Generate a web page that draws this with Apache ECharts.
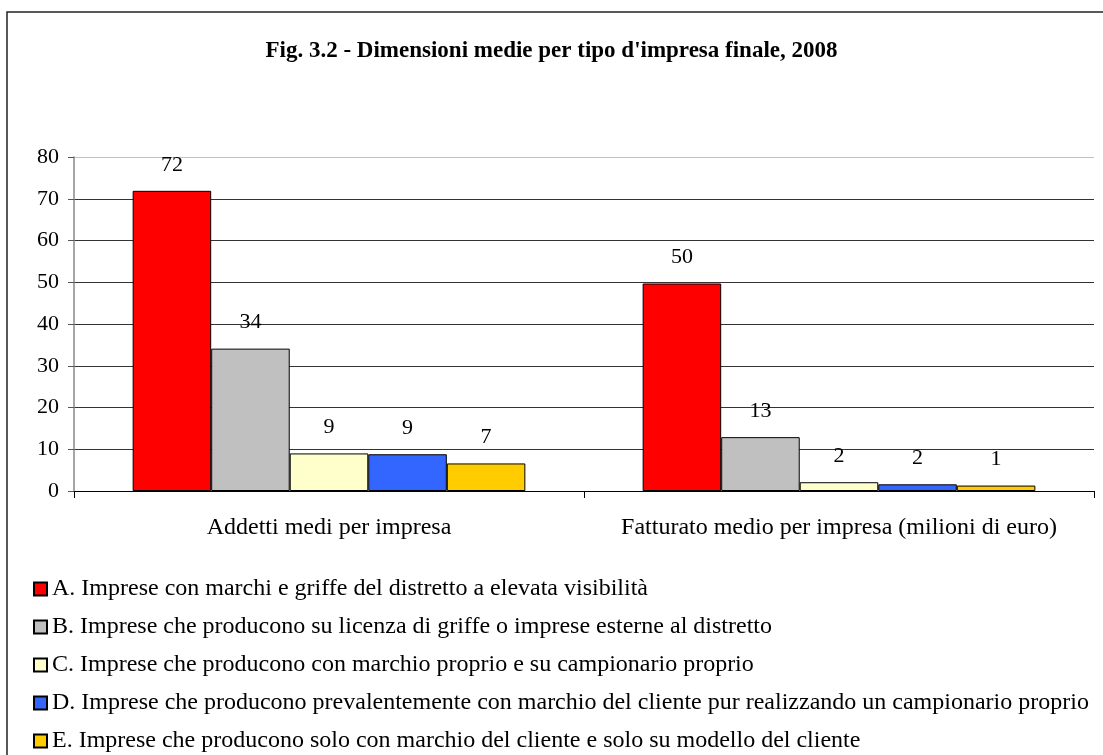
<!DOCTYPE html>
<html>
<head>
<meta charset="utf-8">
<script src="https://cdn.jsdelivr.net/npm/echarts@6/dist/echarts.min.js"></script>
<style>
	html, body { margin: 0; padding: 0; background: #fff; }
	#main { width: 1103px; height: 755px; }
</style>
</head>
<body>
<div id="main"></div>
<script>
var categories = ['Addetti medi per impresa', 'Fatturato medio per impresa (milioni di euro)'];
var seriesNames = [
	'A. Imprese con marchi e griffe del distretto a elevata visibilità',
	'B. Imprese che producono su licenza di griffe o imprese esterne al distretto',
	'C. Imprese che producono con marchio proprio e su campionario proprio',
	'D. Imprese che producono prevalentemente con marchio del cliente pur realizzando un campionario proprio',
	'E. Imprese che producono solo con marchio del cliente e solo su modello del cliente'
];
var valuesA = [71.9, 49.7];
var valuesB = [34.1, 12.9];
var valuesC = [9.0, 2.1];
var valuesD = [8.8, 1.6];
var valuesE = [6.6, 1.3];
var yTicks = [0, 10, 20, 30, 40, 50, 60, 70, 80];
var colors = ['#ff0000', '#c0c0c0', '#ffffcc', '#3366ff', '#ffcc00'];

var font = '"Liberation Serif", "Times New Roman", serif';
var allValues = [valuesA, valuesB, valuesC, valuesD, valuesE];

var myChart = echarts.init(document.getElementById('main'));

var series = allValues.map(function(vals, i) {
	return {
		name: seriesNames[i],
		type: 'bar',
		data: vals,
		barGap: '0%',
		barCategoryGap: '23%',
		itemStyle: {
			color: colors[i],
			borderColor: '#000',
			borderWidth: 1
		},
		label: {
			show: true,
			position: 'top',
			distance: 15,
			fontFamily: font,
			fontSize: 22,
			color: '#000',
			formatter: function(p) {
				return Math.round(p.value);
			}
		}
	};
});

var option = {
	animation: false,
	backgroundColor: '#fff',
	title: {
		text: 'Fig. 3.2 - Dimensioni medie per tipo d\'impresa finale, 2008',
		left: 'center',
		top: 35,
		textStyle: {
			fontFamily: font,
			fontSize: 23,
			fontWeight: 'bold',
			color: '#000'
		}
	},
	legend: {
		orient: 'vertical',
		left: 33,
		top: 577,
		height: 220,
		padding: 0,
		itemWidth: 13,
		itemHeight: 13,
		itemGap: 14,
		icon: 'rect',
		data: seriesNames,
		textStyle: {
			fontFamily: font,
			fontSize: 24,
			lineHeight: 24,
			color: '#000'
		}
	},
	grid: {
		left: 74,
		right: 9,
		top: 157,
		height: 334,
		containLabel: false
	},
	xAxis: {
		type: 'category',
		data: categories,
		axisLine: { lineStyle: { color: '#000', width: 1 } },
		axisTick: { show: true, length: 7, lineStyle: { color: '#000' } },
		axisLabel: {
			interval: 0,
			fontFamily: font,
			fontSize: 24,
			color: '#000',
			margin: 25
		}
	},
	yAxis: {
		type: 'value',
		min: yTicks[0],
		max: yTicks[yTicks.length - 1],
		interval: 10,
		axisLine: { show: true, lineStyle: { color: '#888', width: 1.5 } },
		axisTick: { show: true, length: 6, lineStyle: { color: '#555' } },
		axisLabel: {
			fontFamily: font,
			fontSize: 22,
			color: '#000',
			margin: 15
		},
		splitLine: {
			show: true,
			lineStyle: {
				color: ['#000', '#333', '#333', '#333', '#333', '#333', '#333', '#333', '#c0c0c0'],
				width: 1.2
			}
		}
	},
	graphic: [{
		type: 'rect',
		shape: { x: 7, y: 12, width: 1200, height: 800 },
		style: { fill: null, stroke: '#222', lineWidth: 1.5 },
		silent: true
	}],
	series: series
};

myChart.setOption(option);
</script>
</body>
</html>
